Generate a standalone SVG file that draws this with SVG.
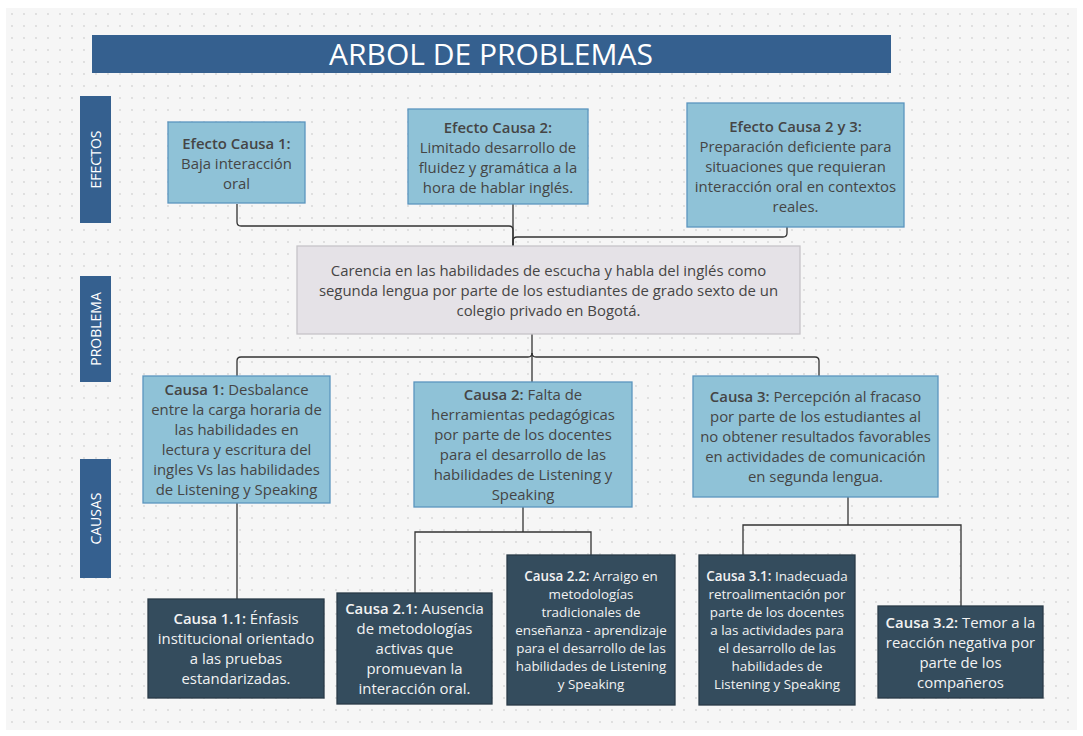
<svg xmlns="http://www.w3.org/2000/svg" width="1083" height="736" viewBox="0 0 1083 736">
<defs>
<pattern id="dots" x="6" y="8" width="12" height="12" patternUnits="userSpaceOnUse">
<circle cx="6" cy="6" r="0.9" fill="#d6d6d6"/>
</pattern>
<style>
.hdr{fill:#35608f;}
.hdrt{fill:#ffffff;font-family:"Open Sans","Noto Sans",sans-serif;text-anchor:middle;}
.lb{fill:#8fc2d7;stroke:#5b95bf;stroke-width:1.3;}
.pb{fill:#e5e2e7;stroke:#c6c4c8;stroke-width:1.3;}
.db{fill:#344c5d;stroke:#283a47;stroke-width:1.3;}
.t{font-family:"Open Sans","Noto Sans",sans-serif;font-size:14.9px;fill:#454545;text-anchor:middle;}
.tw{font-family:"Open Sans","Noto Sans",sans-serif;font-size:14.9px;fill:#f2f2f2;text-anchor:middle;}
.ts{font-size:13.4px;}
.b{font-weight:600;}
.c{fill:none;stroke:#333333;stroke-width:1.3;}
</style>
</defs>
<rect x="0" y="0" width="1083" height="736" fill="#ffffff"/>
<rect x="6" y="8" width="1071" height="722" fill="#f6f6f6"/>
<rect x="6" y="8" width="1071" height="722" fill="url(#dots)"/>

<g id="title">
<rect class="hdr" x="92" y="35" width="799" height="38"/>
<text class="hdrt" x="491" y="65" font-size="30">ARBOL DE PROBLEMAS</text>
</g>

<g id="label-efectos">
<rect class="hdr" x="80" y="96" width="31" height="127"/>
<text class="hdrt" font-size="14" transform="translate(100.5,159.5) rotate(-90)">EFECTOS</text>
</g>
<g id="label-problema">
<rect class="hdr" x="80" y="276" width="31" height="106"/>
<text class="hdrt" font-size="14" transform="translate(100.5,329) rotate(-90)">PROBLEMA</text>
</g>
<g id="label-causas">
<rect class="hdr" x="80" y="459" width="31" height="119"/>
<text class="hdrt" font-size="14" transform="translate(100.5,518.5) rotate(-90)">CAUSAS</text>
</g>

<g id="connectors">
<path class="c" d="M237,204 V222 Q237,226 241,226 H509 Q513,226 513,230 V246"/>
<path class="c" d="M513,201 V246"/>
<path class="c" d="M787,227 V233 Q787,237 783,237 H517 Q513,237 513,241 V246"/>
<path class="c" d="M532,334 V357"/>
<path class="c" d="M532,353 Q532,357 528,357 H241 Q237,357 237,361 V599"/>
<path class="c" d="M532,353 Q532,357 536,357 H815 Q819,357 819,361 V376"/>
<path class="c" d="M532,357 V382"/>
<path class="c" d="M523,507 V532"/>
<path class="c" d="M415,593 V532 H591 V555"/>
<path class="c" d="M848,497 V525"/>
<path class="c" d="M743,555 V525 H961 V606"/>
</g>

<g id="efecto1">
<rect class="lb" x="168" y="122" width="137" height="81"/>
<text class="t" x="236.5"><tspan x="236.5" y="149" class="b">Efecto Causa 1:</tspan><tspan x="236.5" y="169">Baja interacción</tspan><tspan x="236.5" y="189">oral</tspan></text>
</g>
<g id="efecto2">
<rect class="lb" x="408" y="109" width="180" height="95"/>
<text class="t"><tspan x="498" y="133" class="b">Efecto Causa 2:</tspan><tspan x="498" y="153">Limitado desarrollo de</tspan><tspan x="498" y="173">fluidez y gramática a la</tspan><tspan x="498" y="193">hora de hablar inglés.</tspan></text>
</g>
<g id="efecto3">
<rect class="lb" x="687" y="103" width="217" height="124"/>
<text class="t"><tspan x="795.5" y="132" class="b">Efecto Causa 2 y 3:</tspan><tspan x="795.5" y="152">Preparación deficiente para</tspan><tspan x="795.5" y="172">situaciones que requieran</tspan><tspan x="795.5" y="192">interacción oral en contextos</tspan><tspan x="795.5" y="212">reales.</tspan></text>
</g>

<g id="problema">
<rect class="pb" x="297" y="246" width="503" height="88"/>
<text class="t"><tspan x="548.5" y="276">Carencia en las habilidades de escucha y habla del inglés como</tspan><tspan x="548.5" y="296">segunda lengua por parte de los estudiantes de grado sexto de un</tspan><tspan x="548.5" y="316">colegio privado en Bogotá.</tspan></text>
</g>

<g id="causa1">
<rect class="lb" x="143" y="376" width="187" height="127"/>
<text class="t"><tspan x="236.5" y="395"><tspan class="b">Causa 1:</tspan> Desbalance</tspan><tspan x="236.5" y="415">entre la carga horaria de</tspan><tspan x="236.5" y="435">las habilidades en</tspan><tspan x="236.5" y="455">lectura y escritura del</tspan><tspan x="236.5" y="475">ingles Vs las habilidades</tspan><tspan x="236.5" y="495">de Listening y Speaking</tspan></text>
</g>
<g id="causa2">
<rect class="lb" x="414" y="382" width="218" height="125"/>
<text class="t"><tspan x="523" y="400"><tspan class="b">Causa 2:</tspan> Falta de</tspan><tspan x="523" y="420">herramientas pedagógicas</tspan><tspan x="523" y="440">por parte de los docentes</tspan><tspan x="523" y="460">para el desarrollo de las</tspan><tspan x="523" y="480">habilidades de Listening y</tspan><tspan x="523" y="500">Speaking</tspan></text>
</g>
<g id="causa3">
<rect class="lb" x="693" y="376" width="245" height="121"/>
<text class="t"><tspan x="815.5" y="402"><tspan class="b">Causa 3:</tspan> Percepción al fracaso</tspan><tspan x="815.5" y="422">por parte de los estudiantes al</tspan><tspan x="815.5" y="442">no obtener resultados favorables</tspan><tspan x="815.5" y="462">en actividades de comunicación</tspan><tspan x="815.5" y="482">en segunda lengua.</tspan></text>
</g>

<g id="causa11">
<rect class="db" x="148" y="599" width="176" height="99"/>
<text class="tw"><tspan x="236" y="624"><tspan class="b">Causa 1.1:</tspan> Énfasis</tspan><tspan x="236" y="644">institucional orientado</tspan><tspan x="236" y="664">a las pruebas</tspan><tspan x="236" y="684">estandarizadas.</tspan></text>
</g>
<g id="causa21">
<rect class="db" x="337" y="593" width="155" height="111"/>
<text class="tw"><tspan x="414.5" y="614"><tspan class="b">Causa 2.1:</tspan> Ausencia</tspan><tspan x="414.5" y="634">de metodologías</tspan><tspan x="414.5" y="654">activas que</tspan><tspan x="414.5" y="674">promuevan la</tspan><tspan x="414.5" y="694">interacción oral.</tspan></text>
</g>
<g id="causa22">
<rect class="db" x="507" y="555" width="168" height="150"/>
<text class="tw ts"><tspan x="591" y="581"><tspan class="b">Causa 2.2:</tspan> Arraigo en</tspan><tspan x="591" y="599">metodologías</tspan><tspan x="591" y="617">tradicionales de</tspan><tspan x="591" y="635">enseñanza - aprendizaje</tspan><tspan x="591" y="653">para el desarrollo de las</tspan><tspan x="591" y="671">habilidades de Listening</tspan><tspan x="591" y="689">y Speaking</tspan></text>
</g>
<g id="causa31">
<rect class="db" x="699" y="555" width="156" height="150"/>
<text class="tw ts"><tspan x="777" y="581"><tspan class="b">Causa 3.1:</tspan> Inadecuada</tspan><tspan x="777" y="599">retroalimentación por</tspan><tspan x="777" y="617">parte de los docentes</tspan><tspan x="777" y="635">a las actividades para</tspan><tspan x="777" y="653">el desarrollo de las</tspan><tspan x="777" y="671">habilidades de</tspan><tspan x="777" y="689">Listening y Speaking</tspan></text>
</g>
<g id="causa32">
<rect class="db" x="878" y="606" width="165" height="92"/>
<text class="tw"><tspan x="960.5" y="628"><tspan class="b">Causa 3.2:</tspan> Temor a la</tspan><tspan x="960.5" y="648">reacción negativa por</tspan><tspan x="960.5" y="668">parte de los</tspan><tspan x="960.5" y="688">compañeros</tspan></text>
</g>
</svg>
